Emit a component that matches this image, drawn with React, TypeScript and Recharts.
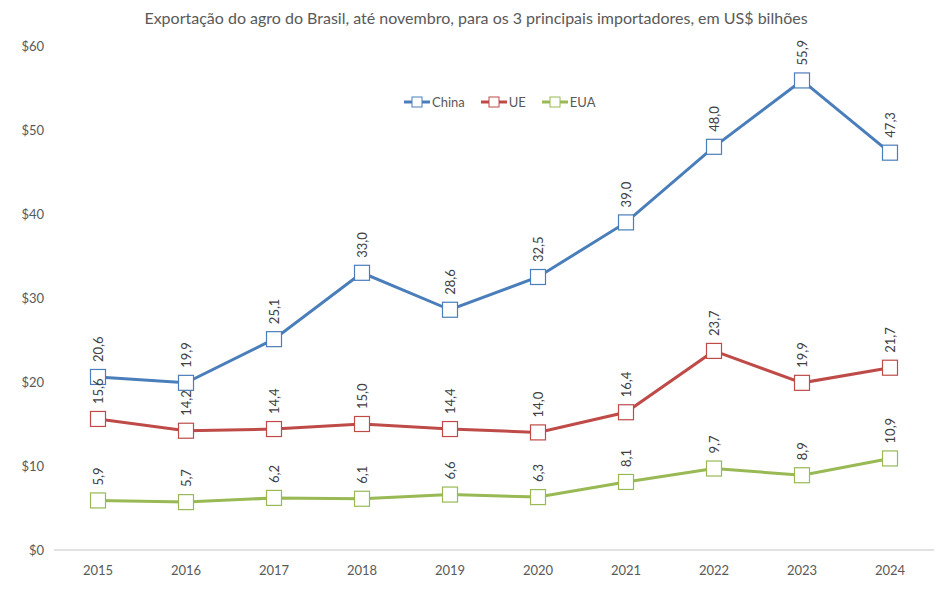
import React from "react";
import { LineChart, Line, XAxis, YAxis } from "recharts";

const years = ["2015", "2016", "2017", "2018", "2019", "2020", "2021", "2022", "2023", "2024"];
const china = [20.6, 19.9, 25.1, 33.0, 28.6, 32.5, 39.0, 48.0, 55.9, 47.3];
const ue = [15.6, 14.2, 14.4, 15.0, 14.4, 14.0, 16.4, 23.7, 19.9, 21.7];
const eua = [5.9, 5.7, 6.2, 6.1, 6.6, 6.3, 8.1, 9.7, 8.9, 10.9];
const yTicks = [0, 10, 20, 30, 40, 50, 60];

const series = [
  { key: "China", color: "#4A7EBB" },
  { key: "UE", color: "#BE4B48" },
  { key: "EUA", color: "#98B954" },
];

const data = years.map((y, i) => ({ year: y, China: china[i], UE: ue[i], EUA: eua[i] }));

const FONT = "Lato, 'Open Sans', sans-serif";

const makeDot = (color: string) => (props: any) => {
  const { cx, cy, index } = props;
  if (cx == null || cy == null) return <g key={index} />;
  const s = 15;
  return (
    <rect key={index} x={cx - s / 2} y={cy - s / 2} width={s} height={s} fill="#fff" stroke={color} strokeWidth={1.2} />
  );
};

const DataLabel = (props: any) => {
  const { x, y, value, index } = props;
  if (x == null || y == null) return null;
  const txt = Number(value).toFixed(1).replace(".", ",");
  return (
    <text
      key={index}
      transform={`translate(${x},${y - 15}) rotate(-90)`}
      textAnchor="start"
      dominantBaseline="central"
      fontSize={13}
      fontFamily={FONT}
      fill="#404040"
    >
      {txt}
    </text>
  );
};

const LegendBox = () => (
  <div
    style={{
      position: "absolute",
      top: 94,
      left: 404,
      display: "flex",
      gap: 16,
      fontFamily: FONT,
      fontSize: 13,
      color: "#595959",
      alignItems: "center",
    }}
  >
    {series.map((s) => (
      <div key={s.key} style={{ display: "flex", alignItems: "center" }}>
        <svg width={26} height={12}>
          <line x1={0} y1={6} x2={26} y2={6} stroke={s.color} strokeWidth={3} />
          <rect x={8} y={1} width={10} height={10} fill="#fff" stroke={s.color} strokeWidth={1} />
        </svg>
        <span style={{ marginLeft: 2 }}>{s.key}</span>
      </div>
    ))}
  </div>
);

export default function App() {
  return (
    <div style={{ position: "absolute", left: 0, top: 0, width: 948, height: 590, background: "#fff" }}>
      <div
        style={{
          position: "absolute",
          top: 8,
          left: 0,
          width: 948,
          textAlign: "center",
          fontFamily: FONT,
          fontSize: 16,
          color: "#595959",
          paddingLeft: 4,
          boxSizing: "border-box",
        }}
      >
        Exportação do agro do Brasil, até novembro, para os 3 principais importadores, em US$ bilhões
      </div>
      <LineChart width={948} height={590} data={data} margin={{ top: 46, right: 14, bottom: 10, left: 0 }}>
        <XAxis
          dataKey="year"
          height={30}
          padding={{ left: 44, right: 44 }}
          tickLine={false}
          tickSize={0}
          tickMargin={16}
          axisLine={{ stroke: "#D9D9D9", strokeWidth: 1.5 }}
          tick={{ fill: "#595959", fontSize: 13, fontFamily: FONT }}
        />
        <YAxis
          width={54}
          domain={[0, 60]}
          ticks={yTicks}
          interval={0}
          axisLine={false}
          tickLine={false}
          tickSize={0}
          tickMargin={10}
          tickFormatter={(v: number) => `$${v}`}
          tick={{ fill: "#595959", fontSize: 13, fontFamily: FONT }}
        />
        {series.map((s) => (
          <Line
            key={s.key}
            dataKey={s.key}
            stroke={s.color}
            strokeWidth={3}
            isAnimationActive={false}
            dot={makeDot(s.color)}
            activeDot={false}
            label={<DataLabel />}
          />
        ))}
      </LineChart>
      <LegendBox />
    </div>
  );
}
